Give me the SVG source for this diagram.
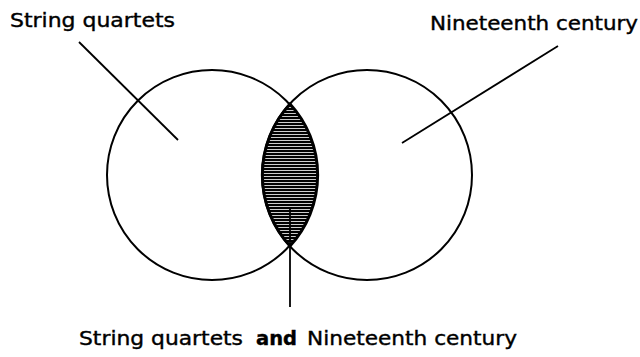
<svg xmlns="http://www.w3.org/2000/svg" width="640" height="357" viewBox="0 0 640 357">
<style>
.c{fill:none;stroke:#000;stroke-width:2}
.l{stroke:#000;stroke-width:1.8;fill:none}
.t{font-family:"DejaVu Sans","Liberation Sans",sans-serif;font-size:20px;fill:#000;stroke:#000;stroke-width:0.4}
.b{font-weight:bold}
</style>
<defs>
<pattern id="hatch" patternUnits="userSpaceOnUse" width="8" height="3">
<rect width="8" height="3" fill="#fff"/>
<rect width="8" height="2.2" fill="#000"/>
</pattern>
</defs>
<rect width="640" height="357" fill="#fff"/>
<g id="set-string-quartets">
<circle class="c" cx="212" cy="175" r="105"/>
</g>
<g id="set-nineteenth-century">
<circle class="c" cx="367" cy="175" r="105"/>
</g>
<g id="intersection">
<path d="M290,104 A105,105 0 0 1 290,246 A105,105 0 0 1 290,104 Z" fill="url(#hatch)" stroke="#000" stroke-width="3"/>
</g>
<g id="connectors">
<line class="l" x1="79" y1="42" x2="178" y2="140"/>
<line class="l" x1="558" y1="46" x2="402" y2="143"/>
<line class="l" x1="290" y1="207" x2="290" y2="307"/>
</g>
<g id="labels">
<text class="t" x="10" y="27" textLength="165" lengthAdjust="spacingAndGlyphs">String quartets</text>
<text class="t" x="430" y="30" textLength="208" lengthAdjust="spacingAndGlyphs">Nineteenth century</text>
<text class="t" x="79" y="345" textLength="164" lengthAdjust="spacingAndGlyphs">String quartets</text>
<text class="t b" x="256" y="345" textLength="41" lengthAdjust="spacingAndGlyphs">and</text>
<text class="t" x="307" y="345" textLength="210" lengthAdjust="spacingAndGlyphs">Nineteenth century</text>
</g>
</svg>
